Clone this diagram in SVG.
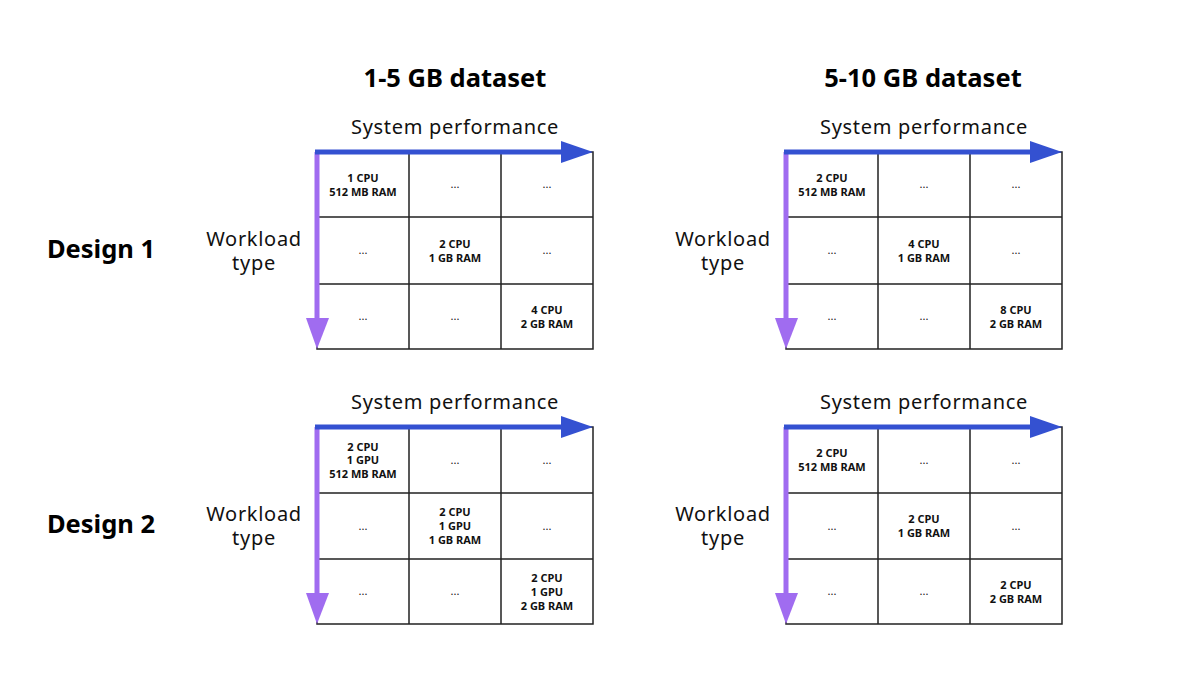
<svg xmlns="http://www.w3.org/2000/svg" width="1200" height="675" viewBox="0 0 1200 675">
<style>
.title{font-family:"Noto Sans","Liberation Sans",sans-serif;font-weight:700;font-size:25.5px;fill:#000;text-anchor:middle}
.axis{font-family:"Noto Sans","Liberation Sans",sans-serif;font-size:20px;letter-spacing:0.7px;fill:#111;text-anchor:middle}
.cell{font-family:"Noto Sans","Liberation Sans",sans-serif;font-weight:700;font-size:11px;fill:#111;text-anchor:middle}
.dots{font-family:"Noto Sans","Liberation Sans",sans-serif;font-size:11px;fill:#111;text-anchor:middle}
.grid{fill:none;stroke:#222;stroke-width:1.5}
.blue{stroke:#3451D1;stroke-width:5;fill:none}
.blueh{fill:#3451D1}
.purple{stroke:#A06CF0;stroke-width:5;fill:none}
.purpleh{fill:#A06CF0}
</style>
<rect width="1200" height="675" fill="#fff"/>
<text class="title" x="455" y="87">1-5 GB dataset</text>
<text class="title" x="923" y="87">5-10 GB dataset</text>
<text class="title" x="101" y="258">Design 1</text>
<text class="title" x="101" y="533">Design 2</text>

<g id="panelA">
<path class="grid" d="M317 152H593V349H317Z M409 152V349 M501 152V349 M317 217H593 M317 284H593"/>
<text class="axis" x="455" y="134">System performance</text>
<text class="axis" x="254" y="246">Workload</text>
<text class="axis" x="254" y="270">type</text>
<text class="cell" x="363" y="182">1 CPU</text><text class="cell" x="363" y="196">512 MB RAM</text>
<text class="dots" x="455" y="188">...</text><text class="dots" x="547" y="188">...</text>
<text class="dots" x="363" y="254">...</text>
<text class="cell" x="455" y="248">2 CPU</text><text class="cell" x="455" y="262">1 GB RAM</text>
<text class="dots" x="547" y="254">...</text>
<text class="dots" x="363" y="320">...</text><text class="dots" x="455" y="320">...</text>
<text class="cell" x="547" y="314">4 CPU</text><text class="cell" x="547" y="328">2 GB RAM</text>
</g>

<g id="panelB">
<path class="grid" d="M786 152H1062V349H786Z M878 152V349 M970 152V349 M786 217H1062 M786 284H1062"/>
<text class="axis" x="924" y="134">System performance</text>
<text class="axis" x="723" y="246">Workload</text>
<text class="axis" x="723" y="270">type</text>
<text class="cell" x="832" y="182">2 CPU</text><text class="cell" x="832" y="196">512 MB RAM</text>
<text class="dots" x="924" y="188">...</text><text class="dots" x="1016" y="188">...</text>
<text class="dots" x="832" y="254">...</text>
<text class="cell" x="924" y="248">4 CPU</text><text class="cell" x="924" y="262">1 GB RAM</text>
<text class="dots" x="1016" y="254">...</text>
<text class="dots" x="832" y="320">...</text><text class="dots" x="924" y="320">...</text>
<text class="cell" x="1016" y="314">8 CPU</text><text class="cell" x="1016" y="328">2 GB RAM</text>
</g>

<g id="panelC">
<path class="grid" d="M317 427H593V624H317Z M409 427V624 M501 427V624 M317 493H593 M317 559H593"/>
<text class="axis" x="455" y="409">System performance</text>
<text class="axis" x="254" y="521">Workload</text>
<text class="axis" x="254" y="545">type</text>
<text class="cell" x="363" y="451">2 CPU</text><text class="cell" x="363" y="464">1 GPU</text><text class="cell" x="363" y="478">512 MB RAM</text>
<text class="dots" x="455" y="464">...</text><text class="dots" x="547" y="464">...</text>
<text class="dots" x="363" y="530">...</text>
<text class="cell" x="455" y="516">2 CPU</text><text class="cell" x="455" y="530">1 GPU</text><text class="cell" x="455" y="544">1 GB RAM</text>
<text class="dots" x="547" y="530">...</text>
<text class="dots" x="363" y="595">...</text><text class="dots" x="455" y="595">...</text>
<text class="cell" x="547" y="582">2 CPU</text><text class="cell" x="547" y="596">1 GPU</text><text class="cell" x="547" y="610">2 GB RAM</text>
</g>

<g id="panelD">
<path class="grid" d="M786 427H1062V624H786Z M878 427V624 M970 427V624 M786 493H1062 M786 559H1062"/>
<text class="axis" x="924" y="409">System performance</text>
<text class="axis" x="723" y="521">Workload</text>
<text class="axis" x="723" y="545">type</text>
<text class="cell" x="832" y="457">2 CPU</text><text class="cell" x="832" y="471">512 MB RAM</text>
<text class="dots" x="924" y="464">...</text><text class="dots" x="1016" y="464">...</text>
<text class="dots" x="832" y="530">...</text>
<text class="cell" x="924" y="523">2 CPU</text><text class="cell" x="924" y="537">1 GB RAM</text>
<text class="dots" x="1016" y="530">...</text>
<text class="dots" x="832" y="595">...</text><text class="dots" x="924" y="595">...</text>
<text class="cell" x="1016" y="589">2 CPU</text><text class="cell" x="1016" y="603">2 GB RAM</text>
</g>

<g id="connectors">
<line class="purple" x1="317" y1="152" x2="317" y2="322"/><polygon class="purpleh" points="306,318 329,318 317,349"/>
<line class="blue" x1="315" y1="152" x2="565" y2="152"/><polygon class="blueh" points="561,141 593,152 561,163"/>
<line class="purple" x1="786" y1="152" x2="786" y2="322"/><polygon class="purpleh" points="775,318 798,318 786,349"/>
<line class="blue" x1="784" y1="152" x2="1034" y2="152"/><polygon class="blueh" points="1030,141 1062,152 1030,163"/>
<line class="purple" x1="317" y1="427" x2="317" y2="597"/><polygon class="purpleh" points="306,593 329,593 317,624"/>
<line class="blue" x1="315" y1="427" x2="565" y2="427"/><polygon class="blueh" points="561,416 593,427 561,438"/>
<line class="purple" x1="786" y1="427" x2="786" y2="597"/><polygon class="purpleh" points="775,593 798,593 786,624"/>
<line class="blue" x1="784" y1="427" x2="1034" y2="427"/><polygon class="blueh" points="1030,416 1062,427 1030,438"/>
</g>
</svg>
